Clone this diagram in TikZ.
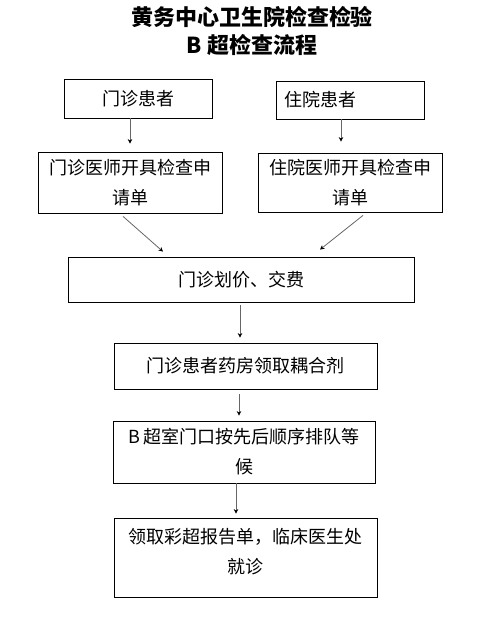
\documentclass[tikz,border=0pt]{standalone}
\usepackage{fontspec}
\newfontfamily\cjk{Noto Sans CJK SC}
\usetikzlibrary{arrows.meta}
\usetikzlibrary{calc}

\begin{document}
\begin{tikzpicture}[
    x=1pt, y=1pt,
    flowbox/.style={
        draw, line width=0.8pt, inner sep=0pt,
        font=\cjk\fontsize{18}{30}\selectfont, align=center
    },
    flow arrow/.style={
        draw=black!60, line width=0.8pt,
        -{Stealth[length=4.5pt,width=4.5pt,black]}
    }
]
\useasboundingbox (0,0) rectangle (485,627);

% title
\node[font=\cjk\bfseries\fontsize{22}{28}\selectfont] (t1) at (252,610) {黄务中心卫生院检查检验};
\node[font=\cjk\bfseries\fontsize{22}{28}\selectfont] (t2) at (252,582) {B 超检查流程};

% boxes
\node[flowbox, minimum width=148, minimum height=39] (b1) at (138,528.5) {门诊患者};
\node[flowbox, minimum width=148, minimum height=38, text width=132, align=left] (b2) at (350,527) {住院患者};

\node[flowbox, minimum width=184, minimum height=61] (b3) at (130,444.5) {门诊医师开具检查申\\请单};
\node[flowbox, minimum width=184, minimum height=59] (b4) at (350,444.5) {住院医师开具检查申\\请单};

\node[flowbox, minimum width=346, minimum height=45] (b5) at (241,347.5) {门诊划价、交费};
\node[flowbox, minimum width=263, minimum height=46] (b6) at (245.5,261) {门诊患者药房领取耦合剂};
\node[flowbox, minimum width=262, minimum height=62] (b7) at (244,175) {B 超室门口按先后顺序排队等\\候};
\node[flowbox, minimum width=263, minimum height=79, text depth=14] (b8) at (245.5,69.5) {领取彩超报告单，临床医生处\\就诊};

% arrows
\draw[flow arrow] (b3.north |- b1.south) -- ([yshift=8]b3.north);
\draw[flow arrow] ([xshift=-9]b2.south) -- ([xshift=-9,yshift=11]b4.north);
\draw[flow arrow] ([xshift=-7,yshift=-3]b3.south) -- ([xshift=-78,yshift=5]b5.north);
\draw[flow arrow] ([xshift=13,yshift=-3]b4.south) -- ([xshift=79,yshift=7]b5.north);
\draw[flow arrow] ([xshift=-1,yshift=-3]b5.south) -- ([xshift=-5.5,yshift=5]b6.north);
\draw[flow arrow] ([xshift=-6.5,yshift=-5]b6.south) -- ([xshift=-5,yshift=5]b7.north);
\draw[flow arrow] ([xshift=-8]b7.south) -- ([xshift=-9.5,yshift=4]b8.north);

\end{tikzpicture}
\end{document}
